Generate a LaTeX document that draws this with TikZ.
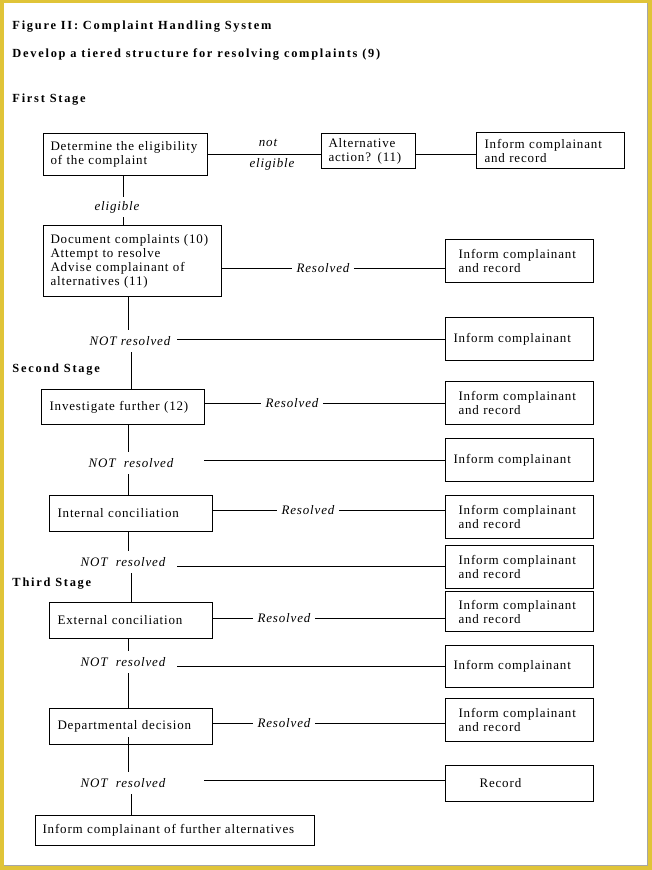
\documentclass[tikz,border=0pt]{standalone}
\usepackage{fontspec}
\setmainfont{Liberation Serif}
\newfontfamily\bodyf[LetterSpace=6.5]{Liberation Serif}
\newfontfamily\headf[LetterSpace=14]{Liberation Serif}
\definecolor{frameyellow}{RGB}{224,196,56}
\begin{document}
\begin{tikzpicture}[x=1pt,y=-1pt,line width=1pt,
  box/.style={draw,line width=1pt,anchor=north west,align=left,inner ysep=0pt,
    font=\bodyf\fontsize{13pt}{14pt}\selectfont},
  lab/.style={inner xsep=4pt,inner ysep=6pt,
    font=\bodyf\itshape\fontsize{13pt}{14pt}\selectfont},
  head/.style={anchor=west,inner sep=0pt,
    font=\headf\bfseries\fontsize{12.4pt}{14pt}\selectfont}]
% frame
\fill[frameyellow] (0,0) rectangle (652,870);
\fill[white] (4,3) rectangle (647,865);
\draw[gray!70,line width=0.6pt] (647,3) -- (647,865) -- (4,865);
\useasboundingbox (0,0) rectangle (652,870);
% headings
\node[head] (t1) at (12,27) {Figure II: Complaint Handling System};
\node[head] (t2) at (12,55) {Develop a tiered structure for resolving complaints (9)};
\node[head] (s1) at (12,100) {First Stage};
\node[head] (s2) at (12,370) {Second Stage};
\node[head] (s3) at (12,584) {Third Stage};
% spine coordinates
\coordinate (sx) at (128,0);
\coordinate (sy) at (131,0);
\coordinate (sz) at (123,0);
% first stage
\node[box,minimum width=164pt,minimum height=42pt,inner xsep=7pt,text width=150pt] (b1) at (43,133) {Determine the eligibility\\of the complaint};
\node[box,minimum width=94pt,minimum height=35pt,inner xsep=7pt,text width=80pt] (alt) at (321,133) {Alternative\\action? (11)};
\node[box,minimum width=148pt,minimum height=36pt,inner xsep=8pt,text width=132pt] (ir0) at (476,132) {Inform complainant\\and record};
\node[lab] (lnot) at (268,143) {not};
\node[lab] (lelig) at (272,164) {eligible};
\draw (b1.east) -- (b1.east -| alt.west);
\draw (b1.east -| alt.east) -- (b1.east -| ir0.west);
\node[lab,inner ysep=4pt] (e1) at (117,207) {eligible};
\node[box,minimum width=178pt,minimum height=71pt,inner xsep=7pt,text width=164pt] (b2) at (43,225) {Document complaints (10)\\Attempt to resolve\\Advise complainant of\\alternatives (11)};
\draw (b1.south -| sz) -- (e1.north -| sz);
\draw (e1.south -| sz) -- (b2.north -| sz);
% right column boxes
\node[box,minimum width=148pt,minimum height=43pt,inner xsep=13pt,text width=122pt] (r1) at (445,239) {Inform complainant\\and record};
\node[box,minimum width=148pt,minimum height=43pt,inner xsep=8pt,text width=132pt] (r2) at (445,317) {Inform complainant};
\node[box,minimum width=148pt,minimum height=43pt,inner xsep=13pt,text width=122pt] (r3) at (445,381) {Inform complainant\\and record};
\node[box,minimum width=148pt,minimum height=43pt,inner xsep=8pt,text width=132pt] (r4) at (445,438) {Inform complainant};
\node[box,minimum width=148pt,minimum height=43pt,inner xsep=13pt,text width=122pt] (r5) at (445,495) {Inform complainant\\and record};
\node[box,minimum width=148pt,minimum height=43pt,inner xsep=13pt,text width=122pt] (r6) at (445,545) {Inform complainant\\and record};
\node[box,minimum width=148pt,minimum height=40pt,inner xsep=13pt,text width=122pt] (r7) at (445,591) {Inform complainant\\and record};
\node[box,minimum width=148pt,minimum height=42pt,inner xsep=8pt,text width=132pt] (r8) at (445,645) {Inform complainant};
\node[box,minimum width=148pt,minimum height=43pt,inner xsep=13pt,text width=122pt] (r9) at (445,698) {Inform complainant\\and record};
\node[box,minimum width=148pt,minimum height=36pt,inner xsep=34pt,text width=80pt] (r10) at (445,765) {Record};
% left column boxes
\node[box,minimum width=163pt,minimum height=35pt,inner xsep=8pt,text width=147pt] (b3) at (41,389) {Investigate further (12)};
\node[box,minimum width=163pt,minimum height=36pt,inner xsep=8pt,text width=147pt] (b4) at (49,495) {Internal conciliation};
\node[box,minimum width=163pt,minimum height=36pt,inner xsep=8pt,text width=147pt] (b5) at (49,602) {External conciliation};
\node[box,minimum width=163pt,minimum height=36pt,inner xsep=8pt,text width=147pt] (b6) at (49,708) {Departmental decision};
\node[box,minimum width=279pt,minimum height=30pt,inner xsep=7pt,text width=265pt] (b7) at (35,815) {Inform complainant of further alternatives};
% resolved labels and lines
\node[lab] (rs1) at (323,268) {Resolved};
\node[lab] (rs2) at (292,403) {Resolved};
\node[lab] (rs3) at (308,510) {Resolved};
\node[lab] (rs4) at (284,618) {Resolved};
\node[lab] (rs5) at (284,723) {Resolved};
\draw (b2.east |- rs1) -- (rs1.west);
\draw (rs1.east) -- (rs1.east -| r1.west);
\draw (b3.east |- rs2) -- (rs2.west);
\draw (rs2.east) -- (rs2.east -| r3.west);
\draw (b4.east |- rs3) -- (rs3.west);
\draw (rs3.east) -- (rs3.east -| r5.west);
\draw (b5.east |- rs4) -- (rs4.west);
\draw (rs4.east) -- (rs4.east -| r7.west);
\draw (b6.east |- rs5) -- (rs5.west);
\draw (rs5.east) -- (rs5.east -| r9.west);
% NOT resolved labels
\node[lab] (n1) at (130,341) {NOT resolved};
\node[lab] (n2) at (131,463) {NOT\ \ resolved};
\node[lab] (n3) at (123,562) {NOT\ \ resolved};
\node[lab] (n4) at (123,662) {NOT\ \ resolved};
\node[lab] (n5) at (123,783) {NOT\ \ resolved};
\coordinate (h1) at (177,339);
\coordinate (h2) at (204,460);
\coordinate (h3) at (177,566);
\coordinate (h4) at (177,666);
\coordinate (h5) at (204,780);
\draw (h1) -- (h1 -| r2.west);
\draw (h2) -- (h2 -| r4.west);
\draw (h3) -- (h3 -| r6.west);
\draw (h4) -- (h4 -| r8.west);
\draw (h5) -- (h5 -| r10.west);
% spine
\draw (b2.south -| sx) -- (n1.north -| sx);
\draw (n1.south -| sy) -- (b3.north -| sy);
\draw (b3.south -| sx) -- (n2.north -| sx);
\draw (n2.south -| sx) -- (b4.north -| sx);
\draw (b4.south -| sx) -- (n3.north -| sx);
\draw (n3.south -| sy) -- (b5.north -| sy);
\draw (b5.south -| sx) -- (n4.north -| sx);
\draw (n4.south -| sx) -- (b6.north -| sx);
\draw ([yshift=8pt]b6.south -| sx) -- (n5.north -| sx);
\draw (n5.south -| sy) -- (b7.north -| sy);
\end{tikzpicture}
\end{document}
